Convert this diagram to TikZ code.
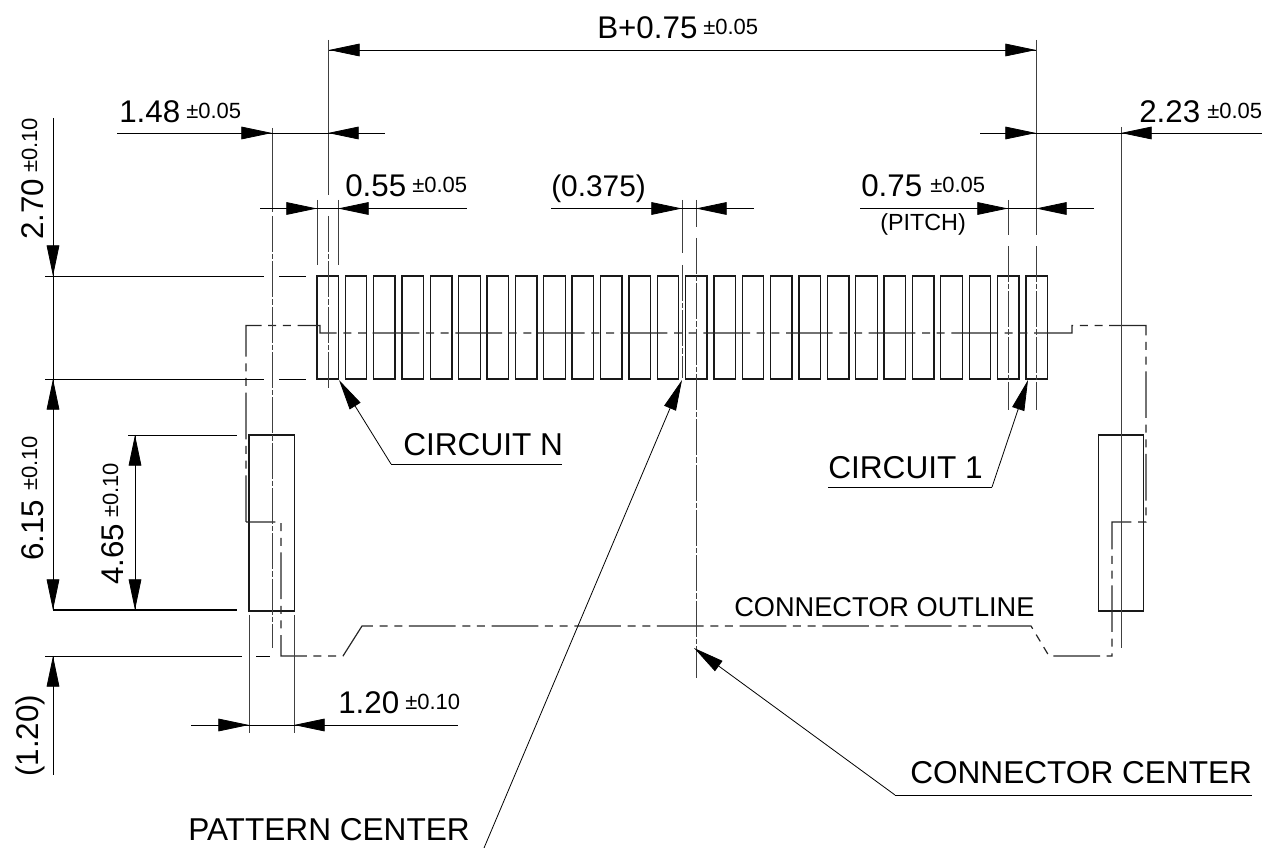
\documentclass[tikz,border=0pt]{standalone}
\usepackage{fontspec}
\setmainfont{Liberation Sans}
\usetikzlibrary{arrows.meta}
\tikzset{
	dim/.style={line width=0.6pt},
	ext/.style={line width=0.6pt, draw=black!75},
	extdash/.style={ext, dash pattern=on 27pt off 1.5pt on 4pt off 1.5pt},
	outline/.style={line width=0.9pt, draw=black!85, dash pattern=on 35pt off 5pt on 6pt off 5pt on 6pt off 5pt},
	pad/.style={line width=1pt, draw=black!90},
	tip/.style={-{Triangle[length=23pt,width=9.5pt,fill=black]}, line width=0.6pt},
	big/.style={font=\fontsize{23.5}{24}\selectfont, inner sep=0pt},
	tol/.style={font=\fontsize{16.5}{18}\selectfont, inner sep=0pt},
	lab/.style={font=\fontsize{23.7}{25}\selectfont, inner sep=0pt}
}
\begin{document}
\begin{tikzpicture}[x=0.75pt, y=-0.75pt, line join=miter, >=stealth]
	\useasboundingbox (0,0) rectangle (1265,848);
	% pads
	\foreach \n in {0,...,25}
	\draw[pad] ({316.9+28.36*\n},276) rectangle ({338.4+28.36*\n},379);
	\draw[pad] (249,435) rectangle (294.5,611);
	\draw[pad] (1098.3,435) rectangle (1143.6,611);
	% connector outline
	\draw[outline] (246,522)--(246,325.5)--(320,325.5)--(320,333)--(1072,333)--(1072,325.5)--(1146,325.5)--(1146,522)--(1112,522)--(1112,656)--(1049,656)--(1031,626)--(362,626)--(343,656)--(281,656)--(281,522)--cycle;
	% extension lines
	\foreach \x/\a/\b/\c/\d in {317/200/265/265/265,338.2/200/265/265/265,682/200/253/265/378,696/200/227/238/678,1008/200/235/246/410,1036.3/40/235/246/410,272/128/212/216/648,328/40/195/216/390,1121/127/625/625/648}
	{\draw[ext] (\x,\a)--(\x,\b);
	\draw[extdash] (\x,\c)--(\x,\d);}
	\draw[ext] (249,615)--(249,733);
	\draw[ext] (294.5,615)--(294.5,733);
	\foreach \y in {276,379}{
	\draw[dim] (45,\y)--(264,\y);
	\draw[dim] (279,\y)--(306,\y);}
	\draw[line width=1pt] (53,610)--(237,610);
	\draw[dim] (128,435)--(237,435);
	\draw[dim] (45,656)--(242,656);
	\draw[dim] (256,656)--(270,656);
	% dimensions
	\draw[dim] (329,50)--(1036,50);
	\draw[tip] (360,50)--(329,50);
	\draw[tip] (1005,50)--(1036,50);
	\draw[dim] (117,133)--(385,133);
	\draw[tip] (241,133)--(272,133);
	\draw[tip] (359,133)--(328,133);
	\draw[dim] (260,208.5)--(467,208.5);
	\draw[tip] (286,208.5)--(317,208.5);
	\draw[tip] (369,208.5)--(338,208.5);
	\draw[dim] (551,208.5)--(754,208.5);
	\draw[tip] (651,208.5)--(682,208.5);
	\draw[tip] (727,208.5)--(696,208.5);
	\draw[dim] (860,208.5)--(1094,208.5);
	\draw[tip] (977,208.5)--(1008,208.5);
	\draw[tip] (1067,208.5)--(1036,208.5);
	\draw[dim] (980,133)--(1262,133);
	\draw[tip] (1005,133)--(1036,133);
	\draw[tip] (1152,133)--(1121,133);
	\draw[dim] (191,725)--(458,725);
	\draw[tip] (218,725)--(249,725);
	\draw[tip] (325,725)--(294,725);
	\draw[dim] (53,118)--(53,610);
	\draw[tip] (53,245)--(53,276);
	\draw[tip] (53,410)--(53,379);
	\draw[tip] (53,579)--(53,610);
	\draw[dim] (53,656)--(53,775);
	\draw[tip] (53,687)--(53,656);
	\draw[dim] (135,435)--(135,610);
	\draw[tip] (135,466)--(135,435);
	\draw[tip] (135,579)--(135,610);
	% leaders
	\coordinate (circN) at (391,464);
	\coordinate (circOne) at (992,487);
	\coordinate (patC) at (484,848);
	\coordinate (conC) at (895,795);
	\draw[dim] (circN)--(562,464);
	\draw[tip] (circN)--(339,380);
	\draw[dim] (circOne)--(828,487);
	\draw[tip] (circOne)--(1028,380);
	\draw[tip] (patC)--(682,380);
	\draw[dim] (conC)--(1252,795);
	\draw[tip] (conC)--(694,648);
	% labels
	\node[big,anchor=base west] (topval) at (597,39) {B+0.75};
	\node[tol,anchor=base west] (toptol) at (703,35) {±0.05};
	\node[big,anchor=base west] (lval) at (119,123) {1.48};
	\node[tol,anchor=base west] (ltol) at (186,119) {±0.05};
	\node[big,anchor=base west] (rval) at (1139,123) {2.23};
	\node[tol,anchor=base west] (rtol) at (1207,119) {±0.05};
	\node[big,anchor=base west] (wval) at (345,197) {0.55};
	\node[tol,anchor=base west] (wtol) at (412,193) {±0.05};
	\node[big,anchor=base west,font=\fontsize{22.4}{24}\selectfont] (cval) at (551,197) {(0.375)};
	\node[big,anchor=base west] (pval) at (861,197) {0.75};
	\node[tol,anchor=base west] (ptol) at (930,193) {±0.05};
	\node[inner sep=0pt,anchor=base west,font=\fontsize{17.5}{18}\selectfont] (pitch) at (880,231) {(PITCH)};
	\node[big,anchor=base west] (sval) at (338,713) {1.20};
	\node[tol,anchor=base west] (stol) at (405,709) {±0.10};
	\node[big,anchor=base west,rotate=90] (aval) at (43,240) {2.70};
	\node[tol,anchor=base west,rotate=90] (atol) at (37,173) {±0.10};
	\node[big,anchor=base west,rotate=90] (bval) at (43,561) {6.15};
	\node[tol,anchor=base west,rotate=90] (btol) at (37,491) {±0.10};
	\node[big,anchor=base west,rotate=90] (hval) at (123,585) {4.65};
	\node[tol,anchor=base west,rotate=90] (htol) at (118,518) {±0.10};
	\node[big,anchor=base west,rotate=90] (oval) at (38,777) {(1.20)};
	\node[lab,anchor=base west] (cn) at (403,456) {CIRCUIT N};
	\node[lab,anchor=base west] (cone) at (828,479) {CIRCUIT 1};
	\node[lab,anchor=base west] (pc) at (188,840) {PATTERN CENTER};
	\node[lab,anchor=base west] (cc) at (910,783) {CONNECTOR CENTER};
	\node[anchor=base west,inner sep=0pt,font=\fontsize{20.4}{22}\selectfont] (co) at (734,617) {CONNECTOR OUTLINE};
\end{tikzpicture}
\end{document}
